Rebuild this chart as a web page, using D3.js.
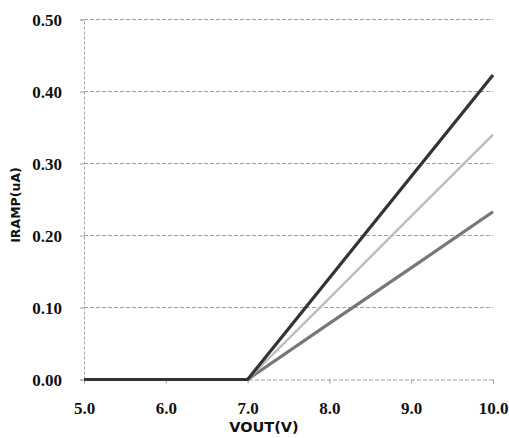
<!DOCTYPE html>
<html><head><meta charset="utf-8">
<script src="https://cdn.jsdelivr.net/npm/d3@7"></script>
<style>
html,body{margin:0;padding:0;background:#fff;}
svg{display:block;}
.tk text{font-family:"Liberation Serif","Times New Roman",serif !important;font-weight:bold;font-size:17px;fill:#111;}
.ttl{font-family:"DejaVu Sans",Verdana,sans-serif;font-weight:bold;fill:#111;}
</style></head>
<body>
<svg id="chart" width="509" height="438"></svg>
<script>
const vout = [5.0, 6.0, 7.0, 8.0, 9.0, 10.0];
const seriesHigh = [0, 0, 0, 0.141, 0.282, 0.423];
const seriesMid  = [0, 0, 0, 0.113, 0.227, 0.340];
const seriesLow  = [0, 0, 0, 0.078, 0.155, 0.233];
const xTicks = [5.0, 6.0, 7.0, 8.0, 9.0, 10.0];
const yTicks = [0.00, 0.10, 0.20, 0.30, 0.40, 0.50];
const xTitle = "VOUT(V)";
const yTitle = "IRAMP(uA)";

const svg = d3.select("#chart");
const L = 84, R = 493, T = 19.5, B = 379.5;
const x = d3.scaleLinear().domain([5, 10]).range([L, R]);
const y = d3.scaleLinear().domain([0, 0.5]).range([B, T]);

// horizontal grid lines
svg.append("g").selectAll("line").data(yTicks.slice(1)).join("line")
  .attr("x1", L).attr("x2", R)
  .attr("y1", d => y(d)).attr("y2", d => y(d))
  .attr("stroke", "#a0a0a0").attr("stroke-width", 1)
  .attr("stroke-dasharray", "4,2");

// y axis
const yAxis = d3.axisLeft(y).tickValues(yTicks).tickFormat(d3.format(".2f")).tickSize(4).tickPadding(18);
const gy = svg.append("g").attr("class", "tk").attr("transform", `translate(${L},0)`).call(yAxis);
gy.attr("font-family", null).attr("font-size", null);
gy.select(".domain").attr("stroke", "#a0a0a0").attr("stroke-dasharray", "3,2");
gy.selectAll(".tick line").attr("stroke", "#a0a0a0");
gy.selectAll("text").attr("dy", "0.34em");

// x axis
const xAxis = d3.axisBottom(x).tickValues(xTicks).tickFormat(d3.format(".1f")).tickSize(4).tickPadding(18);
const gx = svg.append("g").attr("class", "tk").attr("transform", `translate(0,${B})`).call(xAxis);
gx.attr("font-family", null).attr("font-size", null);
gx.select(".domain").attr("stroke", "#a0a0a0").attr("stroke-dasharray", "4,2");
gx.selectAll(".tick line").attr("stroke", "#a0a0a0");
gx.selectAll("text").attr("dy", null).attr("y", 34);

// lines
const line = d3.line().x((d, i) => x(vout[i])).y(d => y(d));
const series = [
  {v: seriesLow, c: "#777777", w: 3.2},
  {v: seriesMid, c: "#bdbdbd", w: 2.4},
  {v: seriesHigh, c: "#333333", w: 3.2}
];
svg.append("g").selectAll("path").data(series).join("path")
  .attr("d", d => line(d.v))
  .attr("fill", "none").attr("stroke", d => d.c).attr("stroke-width", d => d.w)
  .attr("stroke-linejoin", "round");

// titles
svg.append("text").attr("class", "ttl").attr("x", 264).attr("y", 432).attr("text-anchor", "middle")
  .attr("font-size", 14.5).text(xTitle);
svg.append("text").attr("class", "ttl").attr("transform", "translate(20,205) rotate(-90)").attr("text-anchor", "middle")
  .attr("font-size", 12.5).text(yTitle);
</script>
</body></html>
